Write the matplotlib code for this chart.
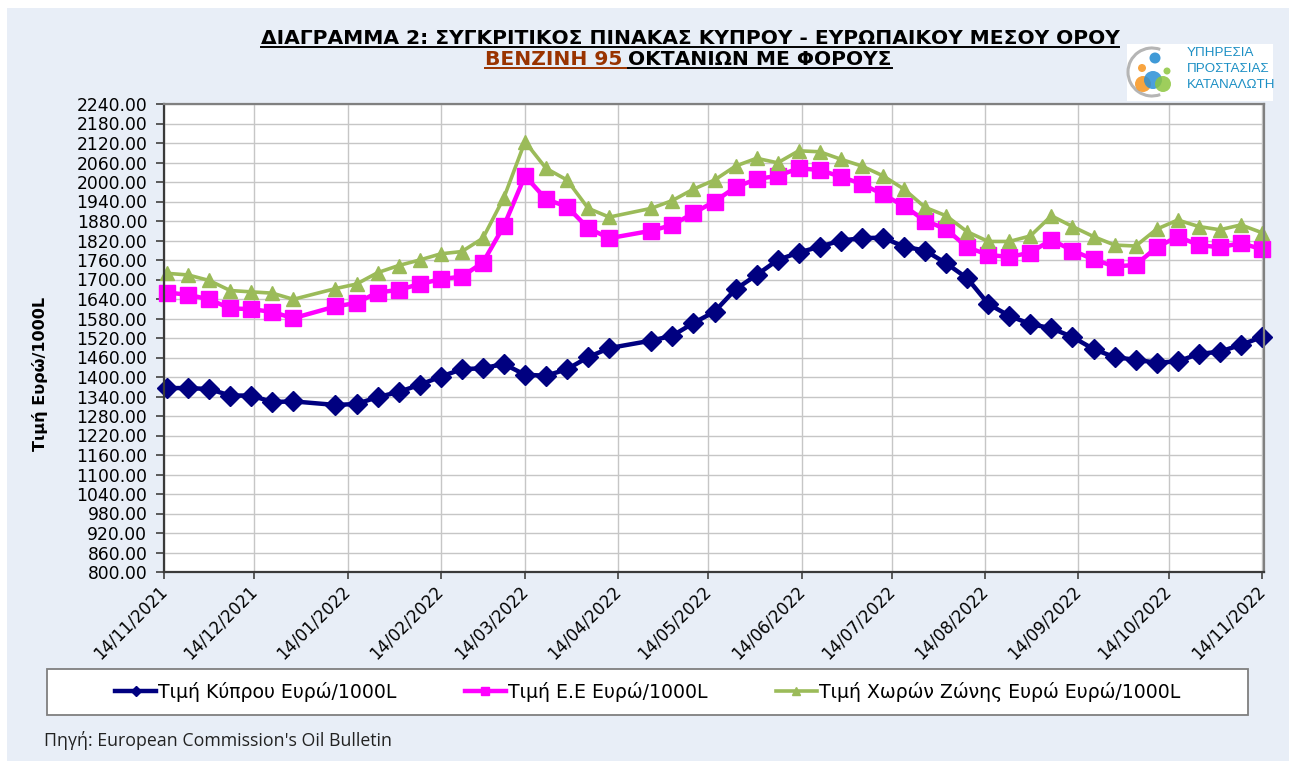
import matplotlib
matplotlib.use("Agg")
import matplotlib.pyplot as plt
import matplotlib.dates as mdates
from matplotlib.ticker import FormatStrFormatter
from matplotlib.patches import Rectangle, Circle, Arc
import numpy as np
import pandas as pd

# weekly oil bulletin dates (03/01 and 18/04 missing in the source)
dates = pd.to_datetime([
    "2021-11-15", "2021-11-22", "2021-11-29", "2021-12-06", "2021-12-13", "2021-12-20", "2021-12-27",
    "2022-01-10", "2022-01-17", "2022-01-24", "2022-01-31", "2022-02-07", "2022-02-14", "2022-02-21",
    "2022-02-28", "2022-03-07", "2022-03-14", "2022-03-21", "2022-03-28", "2022-04-04", "2022-04-11",
    "2022-04-25", "2022-05-02", "2022-05-09", "2022-05-16", "2022-05-23", "2022-05-30", "2022-06-06",
    "2022-06-13", "2022-06-20", "2022-06-27", "2022-07-04", "2022-07-11", "2022-07-18", "2022-07-25",
    "2022-08-01", "2022-08-08", "2022-08-15", "2022-08-22", "2022-08-29", "2022-09-05", "2022-09-12",
    "2022-09-19", "2022-09-26", "2022-10-03", "2022-10-10", "2022-10-17", "2022-10-24", "2022-10-31",
    "2022-11-07", "2022-11-14",
])

cyprus = [1366, 1366, 1363, 1343, 1343, 1323, 1325, 1314, 1317, 1338, 1354, 1376, 1401, 1424, 1427,
          1440, 1407, 1404, 1424, 1461, 1489, 1512, 1527, 1566, 1601, 1670, 1714, 1760, 1783, 1801,
          1820, 1827, 1829, 1801, 1789, 1750, 1704, 1625, 1588, 1563, 1550, 1523, 1486, 1461, 1453,
          1444, 1448, 1471, 1478, 1499, 1523]
eu_avg = [1660, 1653, 1639, 1611, 1609, 1600, 1581, 1617, 1628, 1660, 1668, 1686, 1701, 1709, 1752,
          1865, 2019, 1947, 1924, 1858, 1827, 1850, 1868, 1904, 1940, 1984, 2009, 2019, 2042, 2037,
          2016, 1994, 1962, 1926, 1881, 1855, 1799, 1776, 1769, 1783, 1822, 1789, 1762, 1740, 1745,
          1799, 1832, 1806, 1799, 1812, 1793]
euro_zone = [1719, 1714, 1697, 1666, 1662, 1658, 1639, 1672, 1686, 1721, 1743, 1760, 1779, 1786, 1827,
             1952, 2124, 2042, 2006, 1919, 1892, 1919, 1943, 1978, 2006, 2049, 2073, 2059, 2096, 2093,
             2070, 2049, 2019, 1978, 1922, 1896, 1847, 1817, 1817, 1834, 1896, 1863, 1832, 1806, 1803,
             1855, 1883, 1863, 1853, 1868, 1844]

labels = ["Τιμή Κύπρου Ευρώ/1000L", "Τιμή Ε.Ε Ευρώ/1000L", "Τιμή Χωρών Ζώνης Ευρώ Ευρώ/1000L"]
title_1 = "ΔΙΑΓΡΑΜΜΑ 2: ΣΥΓΚΡΙΤΙΚΟΣ ΠΙΝΑΚΑΣ ΚΥΠΡΟΥ - ΕΥΡΩΠΑΙΚΟΥ ΜΕΣΟΥ ΟΡΟΥ"
title_2a = "ΒΕΝΖΙΝΗ 95"
title_2b = "ΟΚΤΑΝΙΩΝ ΜΕ ΦΟΡΟΥΣ"
ylabel = "Τιμή Ευρώ/1000L"
source = "Πηγή: European Commission's Oil Bulletin"
logo_lines = ["ΥΠΗΡΕΣΙΑ", "ΠΡΟΣΤΑΣΙΑΣ", "ΚΑΤΑΝΑΛΩΤΗ"]

W, H = 1289, 762
plt.rcParams['font.family'] = ['DejaVu Sans']

fig = plt.figure(figsize=(W / 100, H / 100), dpi=100, facecolor='white')
bg = fig.add_axes([0, 0, 1, 1], zorder=0)
bg.set_xlim(0, W)
bg.set_ylim(H, 0)
bg.axis('off')
bg.add_patch(Rectangle((7, 8), W - 7, 753, facecolor='#E8EEF7', edgecolor='none'))

renderer = fig.canvas.get_renderer()


def px_width(t):
    return t.get_window_extent(renderer).width


def fit(t, target):
    t.set_fontsize(t.get_fontsize() * target / px_width(t))


# main plot
ax = fig.add_axes([164 / W, 1 - 572 / H, 1100 / W, 468 / H], zorder=1)
ax.set_facecolor('white')
ax.plot(dates, cyprus, color='#000080', lw=3.2, marker='D', ms=10, clip_on=False, label=labels[0])
ax.plot(dates, eu_avg, color='#FF00FF', lw=3.2, marker='s', ms=12, clip_on=False, label=labels[1])
ax.plot(dates, euro_zone, color='#9BBB59', lw=2.6, marker='^', ms=10.5, clip_on=False, label=labels[2])

ax.set_ylim(800, 2240)
ax.set_yticks(np.arange(800, 2241, 60))
ax.yaxis.set_major_formatter(FormatStrFormatter('%.2f'))
ax.set_xlim(pd.Timestamp("2021-11-14"), pd.Timestamp("2022-11-14 16:00"))
ax.xaxis.set_major_locator(mdates.MonthLocator(bymonthday=14))
ax.xaxis.set_major_formatter(mdates.DateFormatter('%d/%m/%Y'))
ax.grid(True, color='#C6C6C6', lw=1)
ax.set_axisbelow(True)
ax.tick_params(axis='y', length=6, width=1.2, color='#404040', pad=6, labelsize=12.3)
ax.tick_params(axis='x', length=5, width=1.2, color='#404040', pad=7, labelsize=12)
plt.setp(ax.get_xticklabels(), rotation=45, ha='right', va='center', rotation_mode='anchor')
for side in ['left', 'bottom']:
    ax.spines[side].set_color('#3A3A3A')
    ax.spines[side].set_linewidth(1.6)
for side in ['top', 'right']:
    ax.spines[side].set_color('#808080')
    ax.spines[side].set_linewidth(1.6)

# legend box
bg.add_patch(Rectangle((47, 669), 1201, 46, facecolor='white', edgecolor='#7F7F7F', lw=1.3))
ax.legend(loc='center', bbox_to_anchor=(47 / W, 1 - 715 / H, 1201 / W, 46 / H),
          bbox_transform=fig.transFigure, ncol=3, frameon=False, fontsize=13.6,
          handlelength=2.2, handletextpad=0.1, columnspacing=3.6, markerscale=0.5)

# titles
t1 = bg.text(690, 44, title_1, ha='center', va='baseline', fontsize=13, weight='bold')
fit(t1, 855)
fs = t1.get_fontsize()
bb = t1.get_window_extent(renderer)
x0, x1 = 690 - bb.width / 2, 690 + bb.width / 2
bg.plot([x0, x1], [46.5, 46.5], color='black', lw=1.4)

ta = bg.text(0, 65, title_2a, ha='left', va='baseline', fontsize=fs, weight='bold', color='#993300')
tb = bg.text(0, 65, title_2b, ha='left', va='baseline', fontsize=fs, weight='bold', color='black')
wa, wb, gap = px_width(ta), px_width(tb), 6
start = 688.5 - (wa + gap + wb) / 2
ta.set_x(start)
tb.set_x(start + wa + gap)
bg.plot([start, start + wa + gap], [67.5, 67.5], color='#993300', lw=1.4)
bg.plot([start + wa + gap, start + wa + gap + wb], [67.5, 67.5], color='black', lw=1.4)

bg.text(40, 374, ylabel, rotation=90, ha='center', va='center', fontsize=11.5, weight='bold')
bg.text(44, 741, source, ha='left', va='center', fontsize=12.8, family='Open Sans', color='#222222')

# logo
bg.add_patch(Rectangle((1127, 44), 146, 57, facecolor='white', edgecolor='none', zorder=4))
bg.add_patch(Arc((1152, 72), 48, 48, theta1=70, theta2=290, color='#B5B5B5', lw=2.2, zorder=5))
for cx, cy, r, c in [(1143, 84, 8, '#F7941D'), (1153, 80, 9, '#2A8FD6'), (1163, 84, 8, '#8DC63F'),
                     (1142, 68, 4, '#F7941D'), (1155, 58, 5.5, '#1E88D0'), (1167, 71, 3.5, '#8DC63F')]:
    bg.add_patch(Circle((cx, cy), r, facecolor=c, edgecolor='none', alpha=0.85, zorder=5))
for i, line in enumerate(logo_lines):
    bg.text(1187, 53 + i * 16, line, ha='left', va='center', fontsize=9.6, family='Liberation Sans',
            color='#1B8FC4', zorder=6)

fig.savefig('out.png', dpi=100, facecolor=fig.get_facecolor())
